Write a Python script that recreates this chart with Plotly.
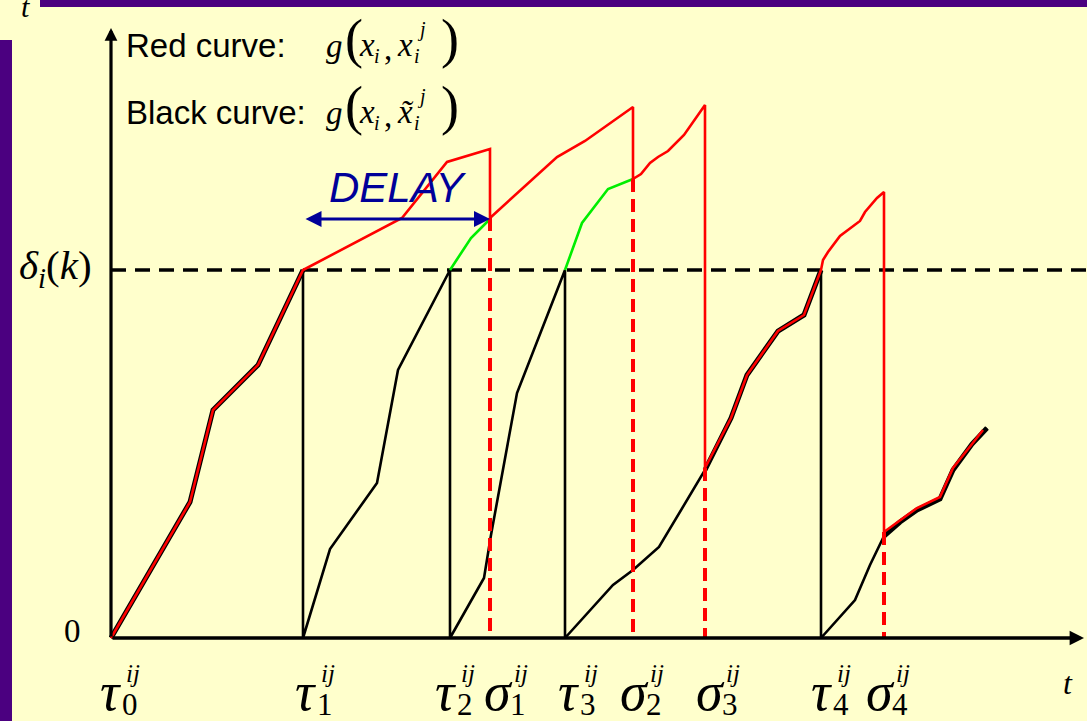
import plotly.graph_objects as go

# ---- values -------------------------------------------------------------
# event instants on the time axis
tau = [0, 192, 339, 454, 710]
sigma = [379, 522, 594, 773]
tau_names = ["0", "1", "2", "3", "4"]
sigma_names = ["1", "2", "3", "4"]

# threshold delta_i(k)
delta_level = 368

# black curve g(x_i, x~_i^j): one piece per interval [tau_k, tau_k+1]
black_t = [
    [0, 79, 102, 147, 192],
    [192, 219, 266, 287, 339],
    [339, 373, 380, 406, 454],
    [454, 502, 522, 548, 594, 620, 636, 667, 693, 710],
    [710, 744, 759, 773, 789, 806, 829, 842, 861, 876],
]
black_g = [
    [0, 136, 228, 273, 368],
    [0, 89, 155, 268, 368],
    [0, 60, 103, 245, 368],
    [0, 53, 68, 91, 168, 220, 263, 307, 323, 368],
    [0, 38, 73, 102, 116, 128, 139, 168, 194, 210],
]

# red curve g(x_i, x_i^j)
red_t = [0, 79, 102, 147, 192, 291, 336, 379, 379, 429, 446, 474, 522, 522,
         530, 539, 547, 557, 573, 594, 594, 620, 636, 667, 693, 710,
         712, 717, 729, 749, 754, 766, 773, 773, 789, 806, 829, 842, 861, 872]
red_g = [0, 136, 228, 273, 368, 420, 476, 489, 420, 465, 481, 497, 531, 459,
         464, 475, 481, 487, 503, 533, 170, 220, 263, 307, 323, 368,
         378, 386, 402, 417, 426, 440, 446, 106, 118, 130, 141, 170, 194, 208]

# parts of the black curve above the threshold, drawn in green
green_t = [[339, 360, 379], [454, 471, 497, 522]]
green_g = [[368, 400, 419], [368, 415, 449, 459]]

# value reached at each sigma (foot of the red drop)
sigma_top = [420, 459, 170, 106]

# ---- styling --------------------------------------------------------------
BG = "#FFFFCC"
PURPLE = "#4B0080"
NAVY = "#000099"
SERIF = "'Times New Roman', 'Liberation Serif', 'DejaVu Serif', serif"
SANS = "Arial, 'Liberation Sans', sans-serif"
W, H = 1087, 721
X0, Y0 = 111, 638          # origin of the time axis inside the canvas

fig = go.Figure()


def line(t, g, color, width, dash="solid"):
    fig.add_trace(go.Scatter(x=t, y=g, mode="lines", hoverinfo="skip",
                             line=dict(color=color, width=width, dash=dash)))


# threshold
line([0, W - X0], [delta_level, delta_level], "black", 3.5, "15px,9px")

# black sawtooth (pieces joined, so the drops at tau_k are drawn too)
saw_t, saw_g = [], []
for pt, pg in zip(black_t, black_g):
    saw_t += pt
    saw_g += pg
line(saw_t, saw_g, "black", 2.6)

# heavier black where the red curve runs on top of it
overlap_from = [0, None, None, sigma[2], sigma[3]]
for pt, pg, start in zip(black_t, black_g, overlap_from):
    if start is None:
        continue
    idx = [i for i, v in enumerate(pt) if v >= start]
    line([pt[i] for i in idx], [pg[i] for i in idx], "black", 5)

# green pieces
for pt, pg in zip(green_t, green_g):
    line(pt, pg, "#00EE00", 2.6)

# red dashed verticals at sigma
for s, top in zip(sigma, sigma_top):
    line([s, s], [top, 0], "#FF0000", 4, "13px,7px")

# red curve
line(red_t, red_g, "#FF0000", 2.6)

# ---- axes arrows ------------------------------------------------------------
def arrow(x, y, ax, ay, color, width, size, side="end"):
    fig.add_annotation(x=x, y=y, ax=ax, ay=ay, xref="x", yref="y",
                       axref="x", ayref="y", text="", showarrow=True,
                       arrowhead=2, startarrowhead=2, arrowside=side,
                       arrowsize=size, startarrowsize=size,
                       arrowwidth=width, arrowcolor=color, standoff=0,
                       startstandoff=0)


arrow(0, Y0 - 28, 0, 0, "black", 3.2, 0.8)
arrow(W - X0 - 3, 0, 0, 0, "black", 3.6, 0.8)
# DELAY span
arrow(sigma[0], 419, tau[1] + 1, 419, NAVY, 3.2, 1.0, "end+start")


# ---- text -------------------------------------------------------------------
def text(s, px, py, size, family=SERIF, italic=True, color="black",
         xanchor="center"):
    fig.add_annotation(x=px - X0, y=Y0 - py, xref="x", yref="y", text=s,
                       showarrow=False, xanchor=xanchor, yanchor="middle",
                       font=dict(family=family, size=size, color=color,
                                 style="italic" if italic else "normal"))


# tick labels with stacked super/subscripts
def event_label(greek, sub, t, dx):
    cx = X0 + t + dx
    text(greek, cx, 692, 54)
    text("ij", cx + 23, 673, 25)
    text(sub, cx + 20, 704, 31, italic=False)


tau_dx = [-1, 2, -5, 3, 0]
sigma_dx = [8, 1, 5, -4]
for name, t, dx in zip(tau_names, tau, tau_dx):
    event_label("τ", name, t, dx)
for name, t, dx in zip(sigma_names, sigma, sigma_dx):
    event_label("σ", name, t, dx)

text("t", 1068, 683, 32)
text("t", 25, 6, 30)
text("0", 72, 631, 33, italic=False)
text("<i>δ</i><sub><i>i</i></sub>(<i>k</i>)", 55, 268, 41, italic=False)

# legend
text("Red curve:", 124, 45, 33, family=SANS, italic=False, xanchor="left")
text("Black curve:", 124, 112, 33, family=SANS, italic=False, xanchor="left")


def formula(py, tilde):
    text("g", 334, py + 1, 33)
    text("(", 354, py - 6, 54, italic=False)
    text("x", 367, py, 33)
    text("i", 377, py + 11, 20)
    text(",", 388, py + 4, 33, italic=False)
    text("x̃" if tilde else "x", 405, py, 33)
    text("j", 421, py - 16, 20)
    text("i", 417, py + 11, 20)
    text(")", 450, py - 6, 54, italic=False)


formula(45, False)
formula(112, True)

text("DELAY", 398, 187, 42, family=SANS, color=NAVY)

# ---- frame ------------------------------------------------------------------
fig.add_shape(type="rect", xref="paper", yref="paper", x0=40 / W, x1=1,
              y0=1 - 7 / H, y1=1, fillcolor=PURPLE, line_width=0)
fig.add_shape(type="rect", xref="paper", yref="paper", x0=0, x1=12 / W,
              y0=0, y1=1 - 40 / H, fillcolor=PURPLE, line_width=0)

fig.update_layout(
    width=W, height=H, margin=dict(l=0, r=0, t=0, b=0),
    paper_bgcolor=BG, plot_bgcolor=BG, showlegend=False,
    xaxis=dict(range=[-X0, W - X0], visible=False, fixedrange=True),
    yaxis=dict(range=[Y0 - H, Y0], visible=False, fixedrange=True),
)

fig.write_html("out.html")
